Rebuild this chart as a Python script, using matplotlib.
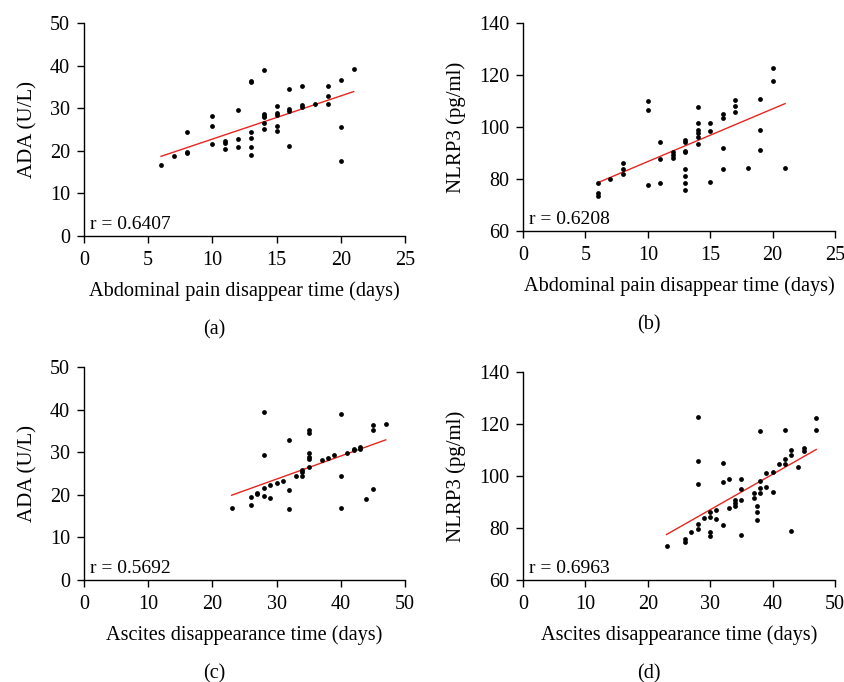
import matplotlib
matplotlib.use("Agg")
import matplotlib.pyplot as plt

plt.rcParams['font.family'] = ['Liberation Serif', 'DejaVu Serif']

# (a) abdominal pain disappear time vs ADA
a_x = [6, 7, 8, 8, 8, 10, 10, 10, 11, 11, 11, 12, 12, 12, 13, 13, 13, 13, 13, 13,
       14, 14, 14, 14, 14, 14, 15, 15, 15, 15, 15, 16, 16, 16, 16, 17, 17, 17,
       18, 19, 19, 19, 20, 20, 20, 21]
a_y = [16.6, 18.8, 24.4, 19.8, 19.4, 28.1, 25.8, 21.7, 22.3, 21.9, 20.5, 29.5, 22.7, 20.8,
       36.4, 36.1, 24.4, 23.0, 21.0, 19.0, 38.9, 28.6, 28.2, 27.9, 26.5, 25.2,
       30.6, 28.8, 28.4, 25.9, 24.6, 34.6, 29.9, 29.4, 21.2, 35.3, 30.8, 30.3,
       30.9, 35.3, 32.8, 31.1, 36.6, 25.6, 17.6, 39.3]
a_fit_x = [6, 21]
a_fit_y = [18.7, 33.9]

# (b) abdominal pain disappear time vs NLRP3
b_x = [6, 6, 6, 7, 8, 8, 8, 10, 10, 10, 11, 11, 11, 12, 12, 12,
       13, 13, 13, 13, 13, 13, 13, 13, 14, 14, 14, 14, 14, 14, 15, 15, 15,
       16, 16, 16, 16, 17, 17, 17, 18, 19, 19, 19, 20, 20, 21]
b_y = [78.3, 74.7, 73.4, 79.9, 86.1, 83.8, 82.0, 110.0, 106.4, 77.5, 94.1, 87.7, 78.6,
       90.2, 89.2, 87.9, 95.1, 94.1, 90.9, 90.2, 83.7, 81.0, 78.6, 75.6,
       107.8, 101.7, 98.7, 97.7, 96.3, 93.4, 101.5, 98.6, 79.0,
       105.0, 103.6, 91.8, 83.8, 110.5, 108.1, 105.9, 84.2, 110.9, 98.7, 91.1,
       122.8, 117.7, 84.4]
b_fit_x = [6, 21]
b_fit_y = [78.6, 109.0]

# (c) ascites disappearance time vs ADA
c_x = [23, 26, 26, 27, 27, 28, 28, 28, 28, 29, 29, 30, 31, 32, 32, 32, 33,
       34, 34, 34, 35, 35, 35, 35, 35, 35, 37, 38, 39, 40, 40, 40, 41, 42, 42,
       43, 43, 44, 45, 45, 45, 47]
c_y = [17.0, 19.4, 17.6, 20.4, 20.1, 39.4, 29.4, 21.7, 19.8, 22.3, 19.3, 22.7, 23.2,
       32.8, 21.1, 16.6, 24.5, 25.9, 25.3, 24.5, 35.3, 34.6, 29.8, 28.8, 28.4, 26.6,
       28.2, 28.6, 29.4, 38.9, 24.4, 16.9, 29.7, 30.8, 30.4, 31.3, 30.8, 19.0,
       36.3, 35.3, 21.3, 36.6]
c_fit_x = [23, 47]
c_fit_y = [19.9, 32.9]

# (d) ascites disappearance time vs NLRP3
d_x = [23, 26, 26, 27, 28, 28, 28, 28, 28, 29, 30, 30, 30, 30, 31, 31, 32, 32, 32,
       33, 33, 34, 34, 34, 35, 35, 35, 35, 37, 37, 37.5, 37.5, 37.5,
       38, 38, 38, 38, 39, 39, 40, 40, 41, 42, 42, 42, 43, 43, 43, 44, 45, 45, 47, 47]
d_y = [73.2, 75.7, 74.5, 78.4, 122.6, 105.9, 97.0, 81.7, 79.8, 83.8, 86.2, 84.3, 78.3, 77.0,
       87.1, 83.5, 104.9, 97.7, 81.0, 98.7, 87.8, 90.9, 89.7, 88.6,
       98.7, 95.0, 90.9, 77.5, 93.6, 91.5, 88.5, 86.2, 83.1,
       117.2, 98.2, 95.5, 93.6, 101.2, 95.8, 101.7, 93.8, 104.6, 117.6, 106.4, 104.8,
       110.0, 108.0, 78.8, 103.3, 110.7, 109.8, 122.5, 117.6]
d_fit_x = [23, 47]
d_fit_y = [77.5, 110.2]

W, H = 845, 682
fig = plt.figure(figsize=(W / 100, H / 100), dpi=100)


def panel(box, xs, ys, fx, fy, xlim, xticks, ylim, yticks, xlabel, ylabel, rtext, tag):
    left, right, top, bottom = box
    ax = fig.add_axes([left / W, 1 - bottom / H, (right - left) / W, (bottom - top) / H])
    ax.scatter(xs, ys, s=12, color='black', zorder=3, linewidths=0)
    ax.plot(fx, fy, color='#e8251f', lw=1.0, zorder=2)
    ax.set_xlim(*xlim)
    ax.set_ylim(*ylim)
    ax.set_xticks(xticks)
    ax.set_yticks(yticks)
    for s in ['top', 'right']:
        ax.spines[s].set_visible(False)
    for s in ['left', 'bottom']:
        ax.spines[s].set_linewidth(1.0)
    ax.tick_params(direction='out', length=5, width=1.0, labelsize=14.5, pad=5)
    ax.tick_params(axis='x', pad=6)
    ax.set_xlabel(xlabel, fontsize=14.6, labelpad=8)
    ax.set_ylabel(ylabel, fontsize=15, labelpad=9)
    ax.text(0.02, 0.015, rtext, transform=ax.transAxes, fontsize=14, va='bottom', ha='left')
    ax.text((left - 60) / W + (right - left + 60) / (2 * W), 1 - (bottom + 94) / H, tag,
            transform=fig.transFigure, ha='center', va='center', fontsize=14.5)
    return ax


panel((84, 405, 23, 236), a_x, a_y, a_fit_x, a_fit_y, (0, 25), [0, 5, 10, 15, 20, 25],
      (0, 50), [0, 10, 20, 30, 40, 50], 'Abdominal pain disappear time (days)', 'ADA (U/L)',
      'r = 0.6407', '(a)')
panel((523, 835, 23, 231), b_x, b_y, b_fit_x, b_fit_y, (0, 25), [0, 5, 10, 15, 20, 25],
      (60, 140), [60, 80, 100, 120, 140], 'Abdominal pain disappear time (days)', 'NLRP3 (pg/ml)',
      'r = 0.6208', '(b)')
panel((84, 405, 367, 580), c_x, c_y, c_fit_x, c_fit_y, (0, 50), [0, 10, 20, 30, 40, 50],
      (0, 50), [0, 10, 20, 30, 40, 50], 'Ascites disappearance time (days)', 'ADA (U/L)',
      'r = 0.5692', '(c)')
panel((523, 835, 372, 580), d_x, d_y, d_fit_x, d_fit_y, (0, 50), [0, 10, 20, 30, 40, 50],
      (60, 140), [60, 80, 100, 120, 140], 'Ascites disappearance time (days)', 'NLRP3 (pg/ml)',
      'r = 0.6963', '(d)')

fig.savefig('out.png', dpi=100)
